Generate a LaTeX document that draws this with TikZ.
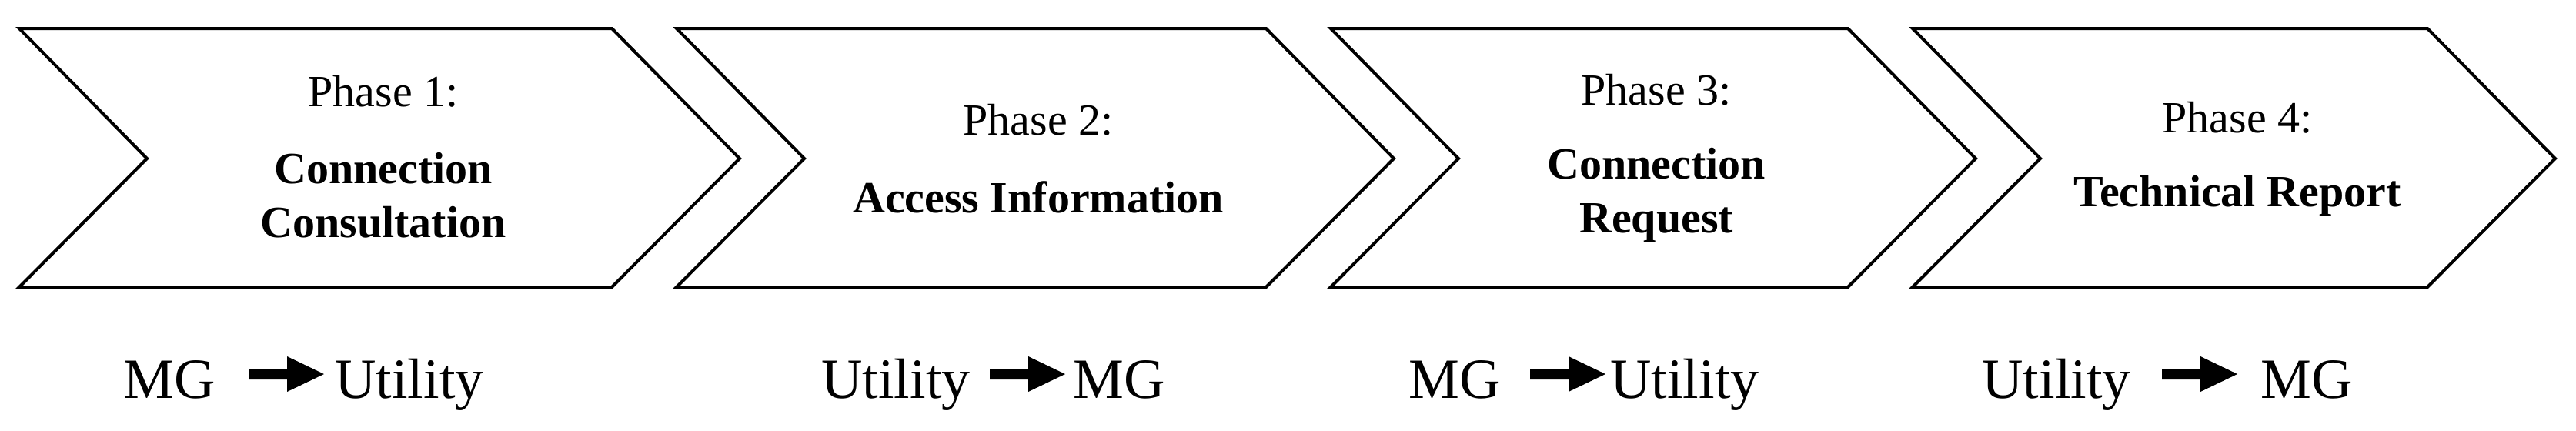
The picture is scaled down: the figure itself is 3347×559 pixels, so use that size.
\documentclass[tikz,border=0pt]{standalone}
\usepackage{fontspec}
\setmainfont{Liberation Serif}
\begin{document}
\begin{tikzpicture}[x=0.5pt,y=-0.5pt,
  chev/.style={draw=black,line width=2pt,line join=miter},
  ph/.style={font=\fontsize{29}{34}\selectfont,anchor=center},
  tt/.style={font=\fontsize{29}{35}\selectfont\bfseries,align=center,anchor=center},
  lab/.style={font=\fontsize{37}{40}\selectfont,anchor=base west,inner sep=0pt}]
\useasboundingbox (0,0) rectangle (3347,559);
% chevrons
\foreach \l/\b in {25/795, 879/1645, 1729/2401, 2485/3154}{
  \draw[chev] (\l,37) -- (\b,37) -- (\b+166,206) -- (\b,373) -- (\l,373) -- (\l+166,206) -- cycle;
}
\node[ph] (p1) at (498,119) {Phase 1:};
\node[tt] (t1) at (498,254) {Connection\\Consultation};
\node[ph] (p2) at (1349,156) {Phase 2:};
\node[tt] (t2) at (1349,256) {Access Information};
\node[ph] (p3) at (2152,117) {Phase 3:};
\node[tt] (t3) at (2152,254) {Connection\\Request};
\node[ph] (p4) at (2907,153) {Phase 4:};
\node[tt] (t4) at (2907,255) {Technical Report};
% bottom labels
\node[lab] (a1) at (160,517) {MG};
\coordinate (ar1) at (372,486);
\node[lab] (b1) at (435,517) {Utility};
\node[lab] (a2) at (1067,517) {Utility};
\coordinate (ar2) at (1335,486);
\node[lab] (b2) at (1394,517) {MG};
\node[lab] (a3) at (1830,517) {MG};
\coordinate (ar3) at (2037,486);
\node[lab] (b3) at (2092,517) {Utility};
\node[lab] (a4) at (2575,517) {Utility};
\coordinate (ar4) at (2858,486);
\node[lab] (b4) at (2937,517) {MG};
\foreach \c in {ar1,ar2,ar3,ar4}{
  \fill[black,shift={(\c)}] (-49,-7) -- (1,-7) -- (1,-23) -- (49,0) -- (1,23) -- (1,7) -- (-49,7) -- cycle;
}
\end{tikzpicture}
\end{document}
